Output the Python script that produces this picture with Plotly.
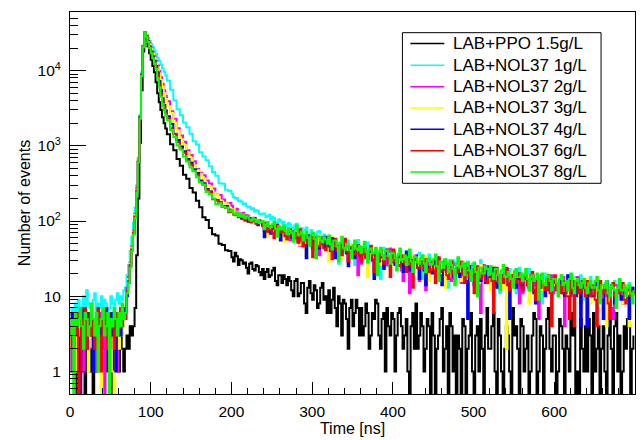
import plotly.graph_objects as go

# Time bins (left edges, ns): 2 ns up to 120, 4 ns from 120 to 200, 2 ns from 200 to 700
time_ns = list(range(0, 120, 2)) + list(range(120, 200, 4)) + list(range(200, 700, 2))

series_labels = ["LAB+PPO 1.5g/L", "LAB+NOL37 1g/L", "LAB+NOL37 2g/L", "LAB+NOL37 3g/L",
                 "LAB+NOL37 4g/L", "LAB+NOL37 6g/L", "LAB+NOL37 8g/L"]
series_colors = ["#000000", "#00ffff", "#ff00ff", "#ffff00", "#0000ff", "#ff0000", "#00ff00"]

ppo_15 = [2,1,3,0,2,1,4,2,1,0,3,2,1,2,0,3,1,2,4,1,0,2,3,1,2,1,0,2,3,2,1,3,2,1,2,
          3,2,4,3,4,7,35,200,1100,5500,18000,32000,
          26000,21000,17000,14000,11500,9500,7000,5000,3800,3000,2400,2000,1700,
          1430,1048,876,666,545,413,364,276,240,186,
          152,112,103,81,67,64,50,48,41,40,
          33,29,38,34,26,31,30,27,28,24,20,27,28,23,22,26,25,21,19,23,
          17,21,23,18,19,22,24,16,14,19,19,15,19,17,14,18,16,12,10,16,
          17,10,11,15,15,8,6,13,16,11,9,14,12,7,8,13,15,9,10,6,
          12,6,9,13,7,4,10,8,3,9,8,5,2,7,9,4,6,9,7,3,
          7,3,4,8,6,2,3,6,5,9,8,3,2,5,6,1,7,4,3,6,
          5,1,3,6,7,4,2,3,5,1,0,4,6,2,8,2,3,6,4,1,
          2,5,4,0,6,3,0,2,3,5,7,1,2,4,0,6,4,1,3,0,
          3,2,0,5,4,0,2,3,6,1,0,3,4,1,5,2,0,3,7,2,
          2,4,6,1,0,5,3,1,0,2,4,3,1,0,7,3,4,2,0,5,
          4,1,2,3,0,1,3,6,5,0,1,4,3,0,2,5,7,2,1,3,
          3,0,1,5,4,2,0,3,2,1,6,3,4,0,1,0,5,2,1,4,
          1,5,3,0,6,1,2,4,0,2,4,1,0,3,5,2,0,4,6,1,
          3,0,1,4,2,5,4,0,2,3]

nol_1 = [5,7,4,8,6,9,5,7,10,6,12,8,7,5,9,11,6,8,7,10,6,9,8,5,7,10,8,6,9,11,8,10,9,12,13,
         19,26,40,62,95,150,300,700,2600,9500,21500,32000,
         29800,27200,24800,22600,20500,18500,16600,14900,13400,12000,10800,9700,8600,
         7390,5580,4050,3060,2550,2040,1765,1450,1150,1040,
         825,720,643,534,448,401,317,314,260,251,
         230,209,199,203,184,188,181,166,171,157,151,155,143,148,134,139,137,125,122,126,
         126,112,116,121,104,113,110,99,96,106,101,92,98,90,84,94,91,83,80,88,
         92,70,64,81,77,69,82,62,63,76,70,58,52,72,74,60,54,66,57,49,
         50,58,60,42,38,51,27,47,48,55,38,44,55,36,47,40,26,49,56,41,
         34,45,41,33,52,38,41,29,34,43,41,37,17,40,44,31,25,39,41,30,
         39,30,28,37,41,33,31,24,40,35,22,31,31,26,27,36,38,25,17,30,
         20,31,36,27,25,22,21,33,31,24,23,29,31,18,13,26,26,30,28,21,
         31,22,16,26,25,20,29,18,21,27,25,19,16,24,30,21,18,25,20,17,
         20,25,24,16,15,21,11,19,20,23,16,14,23,18,20,22,11,17,24,19,
         14,20,18,15,23,17,18,12,15,19,19,16,8,17,20,14,12,18,18,15,
         18,14,13,17,19,12,15,16,19,13,11,15,15,18,14,10,19,15,9,14,
         10,15,18,12,13,16,11,14,16,9,11,15,16,12,7,13,13,16,14,11,
         16,12,8,14,13,10,15,12,11,13]

nol_2 = [3,1,4,5,2,6,3,4,1,5,3,2,6,4,3,1,5,2,4,6,3,0,4,2,5,3,6,2,4,1,5,4,6,5,7,
         13,18,28,46,75,125,270,660,2450,9000,21200,32000,
         29700,26500,23200,20200,17700,15500,13500,11700,10000,8200,6700,5500,4600,
         3930,2876,2294,1716,1376,1133,873,755,622,491,
         439,406,345,315,270,226,222,193,173,174,
         160,141,138,146,131,126,121,129,112,119,118,106,104,111,110,97,94,103,99,88,
         74,92,87,76,74,83,79,68,89,71,74,80,63,75,76,64,56,73,74,61,
         63,54,47,60,71,52,56,47,65,58,45,55,56,42,35,51,62,48,46,53,
         58,45,40,51,52,38,33,47,39,44,55,40,29,46,45,36,40,44,19,41,
         27,38,41,33,32,40,42,30,36,28,22,37,42,31,31,35,26,39,43,28,
         38,27,25,33,31,22,16,30,22,34,11,29,32,25,35,28,16,31,27,23,
         12,25,28,21,23,27,26,19,32,24,24,28,19,22,27,17,16,26,27,20,
         23,18,15,25,27,20,21,16,25,23,17,21,22,14,6,24,26,19,17,22,
         23,17,16,20,21,13,14,19,16,22,23,15,12,18,19,14,17,20,8,16,
         11,17,18,14,14,19,19,12,16,15,5,18,19,13,14,16,12,17,19,11,
         17,13,12,15,14,18,4,14,11,16,16,10,13,17,18,12,8,15,14,11,
         4,13,14,10,11,15,13,12,16,9,12,14,10,13,13,7,5,14,14,12,
         12,10,8,13,14,11,11,9,13,12]

nol_3 = [2,4,3,1,5,3,6,2,4,3,5,1,4,6,2,3,5,4,2,0,4,3,6,5,2,4,1,0,5,4,2,6,3,5,6,
         12,17,27,44,72,120,260,640,2400,8900,21000,32000,
         29500,26000,22500,19500,17000,14800,12800,11000,9200,7500,6100,5000,4200,
         3360,2730,2030,1600,1222,1025,816,694,554,475,
         426,365,296,288,239,223,189,175,171,146,
         138,143,127,133,131,118,112,121,117,107,113,104,109,98,102,105,92,99,97,86,
         100,79,62,84,81,73,86,70,66,78,74,69,53,75,60,71,74,63,64,70,
         72,56,48,63,71,52,33,57,62,49,51,58,55,44,64,50,52,47,43,55,
         29,47,62,43,41,50,45,37,31,46,54,41,40,35,49,43,32,45,44,38,
         43,35,38,41,18,36,43,33,30,39,40,31,26,37,30,34,43,29,23,35,
         30,34,26,29,42,31,21,33,32,27,26,30,34,25,29,32,18,28,33,24,
         34,25,16,28,27,23,30,26,20,29,24,21,13,25,18,27,27,22,22,24,
         26,21,16,24,26,19,10,22,24,18,19,23,22,17,26,20,20,24,16,19,
         12,20,25,17,17,21,18,14,13,19,2,16,17,20,21,15,14,18,19,16,
         18,14,17,19,8,15,19,13,13,17,18,14,12,16,14,19,20,13,10,16,
         14,16,12,15,19,13,10,14,16,11,12,17,17,13,14,10,9,15,17,12,
         17,12,8,14,14,11,15,13,10,15,12,9,4,13,9,14,14,11,11,13,
         14,10,8,12,14,11,4,12,12,10]

nol_4 = [3,6,2,4,5,1,0,7,3,5,2,6,4,3,1,5,6,3,4,2,5,3,7,4,2,6,3,5,1,4,6,3,5,7,6,
         10,15,25,41,68,112,245,610,2400,8800,21000,32000,
         29000,25000,21000,18000,15500,13500,11500,9500,7300,5500,4300,3500,2950,
         2470,1948,1445,1200,980,850,667,596,490,434,
         347,319,266,247,197,190,178,156,159,141,
         140,124,121,128,125,113,107,117,118,103,98,110,101,106,109,93,88,99,95,86,
         61,77,80,72,68,79,85,66,76,70,55,73,83,64,66,71,73,60,55,68,
         66,52,56,61,64,48,32,57,65,50,41,55,58,46,43,53,50,44,62,48,
         46,40,59,44,32,47,44,36,39,48,55,37,25,42,45,39,32,44,46,35,
         29,38,43,34,31,39,42,30,17,35,34,29,37,33,23,36,42,28,29,34,
         38,26,28,33,34,27,21,31,39,25,22,30,26,32,34,24,17,29,27,22,
         14,24,25,21,20,27,30,22,26,19,14,25,30,21,22,26,26,18,17,23,
         24,18,20,23,24,16,5,21,25,19,14,22,23,17,16,20,20,15,25,19,
         18,21,24,15,13,19,18,16,16,20,23,14,5,18,19,15,13,17,20,14,
         12,17,19,14,13,18,19,11,8,16,15,13,17,15,10,17,19,12,13,16,
         17,12,13,16,15,11,10,15,19,13,11,16,13,10,17,14,4,13,14,11,
         4,12,13,10,10,14,15,11,13,9,5,13,16,10,11,14,13,8,9,12,
         12,9,10,13,12,10,5,11,13,10]

nol_6 = [4,2,5,3,6,0,1,5,3,7,2,4,6,3,5,2,4,7,3,1,5,4,6,2,3,5,4,2,6,3,5,7,4,6,5,
         12,16,26,42,70,115,250,620,2350,8700,20800,32000,
         28500,24500,20500,17500,15000,13000,11000,8800,6700,5000,3950,3250,2750,
         2330,1718,1435,1124,911,807,640,566,470,413,
         332,307,260,242,195,187,177,155,150,131,
         138,122,119,126,112,120,117,106,101,112,110,99,96,104,101,92,93,98,96,85,
         95,78,72,86,84,70,59,79,89,72,70,77,72,63,57,74,78,65,64,70,
         59,52,78,55,46,60,64,50,57,62,33,51,61,47,46,56,58,43,41,52,
         51,42,31,47,58,40,43,49,35,44,58,39,29,45,45,37,36,43,48,35,
         29,36,44,32,35,40,47,31,21,37,36,30,41,34,27,33,33,28,18,32,
         42,29,32,26,25,33,35,27,21,30,34,25,13,31,30,24,24,29,28,23,
         31,23,21,27,29,22,15,26,33,21,22,28,24,19,17,25,29,20,22,24,
         21,25,29,19,15,23,24,18,22,20,11,22,25,17,17,21,23,16,15,20,
         20,16,6,21,24,15,17,19,15,20,24,14,12,18,19,16,15,19,20,13,
         12,18,19,14,15,17,21,12,9,16,16,13,19,15,12,17,15,11,4,15,
         19,12,15,14,11,16,16,10,10,5,17,12,4,14,15,11,12,16,14,10,
         16,11,10,14,14,9,4,13,16,12,11,14,12,8,5,13,15,10,11,12,
         11,13,15,9,8,12,13,10,11,12]

nol_8 = [3,5,0,6,4,5,7,4,2,6,5,3,4,8,5,3,6,1,4,5,7,3,4,6,0,5,4,7,5,3,6,4,8,5,6,
         11,15,24,40,66,110,240,600,2300,8500,20500,32000,
         28000,24000,20000,17000,14500,12500,10500,8000,6000,4500,3600,3000,2550,
         2190,1620,1313,1008,896,723,620,514,461,383,
         325,303,244,228,200,167,173,155,151,135,
         140,126,122,131,117,124,114,121,109,116,115,104,101,109,106,97,102,94,98,100,
         78,90,97,84,83,91,99,79,62,85,82,77,87,73,67,80,74,70,53,76,
         87,64,68,72,55,66,72,60,47,67,70,58,32,63,62,55,52,61,57,50,
         64,49,42,55,55,46,29,52,62,44,42,50,46,41,32,48,55,43,41,47,
         38,45,53,39,28,42,43,37,38,44,19,39,44,35,31,40,41,34,27,38,
         37,32,22,36,43,30,31,35,26,33,42,29,21,34,33,28,27,32,35,27,
         21,30,32,26,27,31,36,25,16,29,28,24,31,27,21,30,26,23,14,27,
         33,24,25,28,19,26,28,22,16,25,28,21,10,24,24,20,20,25,23,19,
         25,20,17,23,23,19,12,22,26,18,18,21,19,17,13,21,23,18,18,20,
         16,19,23,17,12,18,19,16,17,20,9,17,20,15,14,18,19,16,12,17,
         17,15,10,17,19,14,15,16,12,17,20,13,11,16,17,14,13,15,17,13,
         11,15,16,13,13,16,18,12,8,14,14,13,16,11,10,14,13,12,7,13,
         17,12,12,14,10,13,14,11,8,12]

y_tick_vals = [1, 10, 100, 1000, 10000]
y_tick_text = ["1", "10", "10<sup>2</sup>", "10<sup>3</sup>", "10<sup>4</sup>"]
x_tick_vals = [0, 100, 200, 300, 400, 500, 600]

all_counts = [ppo_15, nol_1, nol_2, nol_3, nol_4, nol_6, nol_8]
for c in all_counts:
    assert len(c) == len(time_ns), (len(c), len(time_ns))

FONT = "Liberation Sans, Arial, Helvetica, sans-serif"

fig = go.Figure()
for name, color, counts in zip(series_labels, series_colors, all_counts):
    # empty bins are drawn down to the bottom of the log axis, as in ROOT
    y = [c if c > 0 else 0.1 for c in counts]
    fig.add_trace(go.Scatter(x=time_ns, y=y, mode="lines", name=name, showlegend=False,
                             line=dict(color=color, width=2, shape="hv")))

# Legend drawn as a boxed list of line samples and labels (paper coordinates)
PLOT_L, PLOT_R, PLOT_T, PLOT_B = 70, 636, 12, 400
def px(xp):
    return (xp - PLOT_L) / (PLOT_R - PLOT_L)
def py(yp):
    return (PLOT_B - yp) / (PLOT_B - PLOT_T)

shapes = [dict(type="rect", xref="paper", yref="paper", x0=px(403), x1=px(602), y0=py(186), y1=py(33),
               line=dict(color="black", width=1), fillcolor="white", layer="above")]
annotations = []
row_y = [44, 66, 88, 109.5, 131, 153, 174.5]
for i, (name, color) in enumerate(zip(series_labels, series_colors)):
    shapes.append(dict(type="line", xref="paper", yref="paper", x0=px(411), x1=px(445),
                       y0=py(row_y[i]), y1=py(row_y[i]), line=dict(color=color, width=1.5), layer="above"))
    annotations.append(dict(xref="paper", yref="paper", x=px(452), y=py(row_y[i]), text=name,
                            showarrow=False, xanchor="left", yanchor="middle",
                            font=dict(family=FONT, size=17, color="black")))

minor_y = [m * 10 ** e for e in range(-1, 5) for m in range(2, 10)]
minor_y = [v for v in minor_y if 0.5 < v < 60000]

fig.update_layout(
    width=643, height=440,
    margin=dict(l=70, r=7, t=12, b=40),
    paper_bgcolor="white", plot_bgcolor="white",
    font=dict(family=FONT, size=16, color="black"),
    showlegend=False,
    shapes=shapes, annotations=annotations,
)
fig.update_xaxes(
    range=[0, 700], showline=True, linecolor="black", linewidth=1, mirror=True,
    showgrid=False, zeroline=False,
    ticks="inside", ticklen=12, tickcolor="black", tickvals=x_tick_vals,
    tickfont=dict(family=FONT, size=15.5, color="black"), ticklabelstandoff=3,
    minor=dict(ticks="inside", ticklen=6, tickcolor="black", dtick=20, tick0=0, showgrid=False),
    title=dict(text="Time [ns]", standoff=2, font=dict(family=FONT, size=16, color="black")),
)
fig.update_yaxes(
    type="log", range=[-0.30, 4.78], showline=True, linecolor="black", linewidth=1, mirror=True,
    showgrid=False, zeroline=False,
    ticks="inside", ticklen=16, tickcolor="black",
    tickvals=y_tick_vals, ticktext=y_tick_text,
    tickfont=dict(family=FONT, size=15.5, color="black"), ticklabelstandoff=5,
    minor=dict(ticks="inside", ticklen=8, tickcolor="black", tickvals=minor_y, showgrid=False),
    title=dict(text="Number of events", standoff=3, font=dict(family=FONT, size=16, color="black")),
)

fig.write_html("out.html")
